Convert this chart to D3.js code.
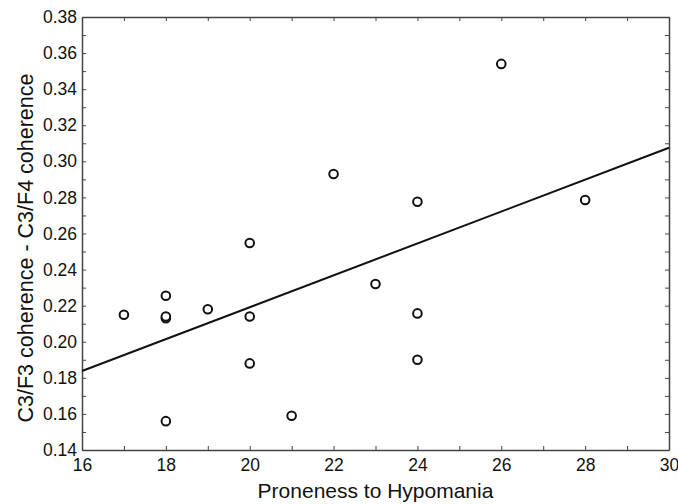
<!DOCTYPE html>
<html>
<head>
    <script src="https://cdn.jsdelivr.net/npm/d3@7"></script>
    <style>
        body { margin: 0; background: white; }
        #chart text { font-family: "Liberation Sans", Arial, sans-serif; fill: #111; }
    </style>
</head>
<body>
<svg id="chart" width="678" height="504"></svg>
<script>
    // data
    var hypomania = [17, 18, 18, 18, 18, 19, 20, 20, 20, 21, 22, 23, 24, 24, 24, 26, 28];
    var coherenceDiff = [0.215, 0.2255, 0.213, 0.214, 0.156, 0.218, 0.2547, 0.214, 0.188, 0.159, 0.293, 0.232, 0.2776, 0.2157, 0.190, 0.354, 0.2786];
    // fitted line, read at both ends of x range
    var fitX = [16, 30];
    var fitY = [0.1838, 0.3075];
    var xTicks = [16, 17, 18, 19, 20, 21, 22, 23, 24, 25, 26, 27, 28, 29, 30];
    var yTicks = d3.range(14, 39).map(function (d) { return d / 100; });

    var margin = {top: 17, right: 9, bottom: 54, left: 82};
    var w = 678 - margin.left - margin.right;
    var h = 504 - margin.top - margin.bottom;

    var svg = d3.select("#chart")
        .append("g")
        .attr("transform", "translate(" + margin.left + "," + margin.top + ")");

    var x = d3.scaleLinear().domain([16, 30]).range([0, w]);
    var y = d3.scaleLinear().domain([0.14, 0.38]).range([h, 0]);

    var frameCol = "#444";

    // bottom axis with labels on even numbers
    var xAxis = svg.append("g")
        .attr("transform", "translate(0," + h + ")")
        .call(d3.axisBottom(x).tickValues(xTicks).tickSizeInner(-4).tickSizeOuter(0).tickPadding(9)
            .tickFormat(function (d) { return d % 2 === 0 ? d : ""; }));
    // left axis
    var yAxis = svg.append("g")
        .call(d3.axisLeft(y).tickValues(yTicks).tickSizeInner(-4).tickSizeOuter(0).tickPadding(5)
            .tickFormat(function (d) { return Math.round(d * 100) % 2 === 0 ? d3.format(".2f")(d) : ""; }));
    // top and right, ticks only
    var topAxis = svg.append("g")
        .call(d3.axisTop(x).tickValues(xTicks).tickSizeInner(-4).tickSizeOuter(0).tickFormat(""));
    var rightAxis = svg.append("g")
        .attr("transform", "translate(" + w + ",0)")
        .call(d3.axisRight(y).tickValues(yTicks).tickSizeInner(-4).tickSizeOuter(0).tickFormat(""));

    [xAxis, yAxis, topAxis, rightAxis].forEach(function (a) {
        a.select(".domain").attr("stroke", frameCol).attr("stroke-width", 1.5);
        a.selectAll(".tick line").attr("stroke", frameCol).attr("stroke-width", 1);
        a.selectAll("text").attr("font-size", 17.5).attr("fill", "#111");
    });

    // regression line
    var line = d3.line()
        .x(function (d) { return x(d[0]); })
        .y(function (d) { return y(d[1]); });
    svg.append("path")
        .datum(fitX.map(function (d, i) { return [d, fitY[i]]; }))
        .attr("d", line)
        .attr("fill", "none")
        .attr("stroke", "#111")
        .attr("stroke-width", 2);

    // points
    svg.selectAll("circle")
        .data(hypomania)
        .enter()
        .append("circle")
        .attr("cx", function (d) { return x(d); })
        .attr("cy", function (d, i) { return y(coherenceDiff[i]); })
        .attr("r", 4.3)
        .attr("fill", "white")
        .attr("stroke", "#111")
        .attr("stroke-width", 2);

    // axis titles
    svg.append("text")
        .attr("x", w / 2)
        .attr("y", h + 48)
        .attr("text-anchor", "middle")
        .attr("font-size", 21)
        .text("Proneness to Hypomania");

    svg.append("text")
        .attr("transform", "translate(" + (33 - margin.left) + "," + (248 - margin.top) + ") rotate(-90)")
        .attr("text-anchor", "middle")
        .attr("font-size", 21.5)
        .text("C3/F3 coherence - C3/F4 coherence");
</script>
</body>
</html>
